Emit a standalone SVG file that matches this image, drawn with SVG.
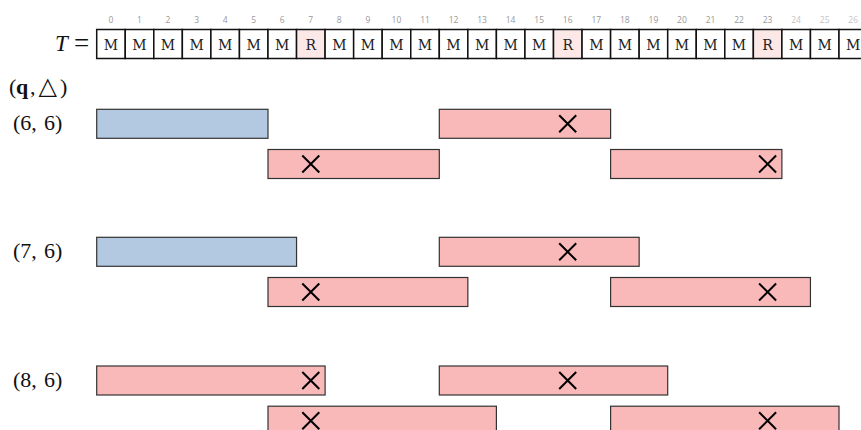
<svg xmlns="http://www.w3.org/2000/svg" width="861" height="430" viewBox="0 0 861 430">
<style>
.idx{font-family:"Open Sans","Liberation Sans",sans-serif;font-size:8.5px;fill:#999;text-anchor:middle}
.idx2{fill:#c4c4c4}
.cell{fill:#fff;stroke:#111;stroke-width:1.5}
.cellr{fill:#fde8e8;stroke:#111;stroke-width:1.5}
.ct{font-family:"DejaVu Serif","Liberation Serif",serif;font-size:14px;fill:#222;text-anchor:middle}
.lbl{font-family:"Liberation Serif","Times New Roman",serif;font-size:22px;fill:#111}
.blue{fill:#b3c8e1;stroke:#333;stroke-width:1.2}
.pink{fill:#f9b9b9;stroke:#333;stroke-width:1.2}
.x{stroke:#000;stroke-width:2;fill:none}
</style>
<defs>
<g id="xm"><path class="x" d="M-8.5,-8.5L8.5,8.5M-8.5,8.5L8.5,-8.5"/></g>
</defs>
<rect width="861" height="430" fill="#fff"/>
<g id="tlabel">
<text class="lbl" x="55" y="51" style="font-style:italic;font-size:23px">T</text>
<text class="lbl" x="74" y="52" style="font-size:27px">=</text>
</g>
<g id="tape">
<g id="indices">
<text class="idx" x="111" y="23">0</text><text class="idx" x="139.5" y="23">1</text><text class="idx" x="168" y="23">2</text><text class="idx" x="196.6" y="23">3</text><text class="idx" x="225.1" y="23">4</text><text class="idx" x="253.7" y="23">5</text><text class="idx" x="282.2" y="23">6</text><text class="idx" x="310.8" y="23">7</text><text class="idx" x="339.3" y="23">8</text><text class="idx" x="367.9" y="23">9</text><text class="idx" x="396.4" y="23">10</text><text class="idx" x="425" y="23">11</text><text class="idx" x="453.5" y="23">12</text><text class="idx" x="482.1" y="23">13</text><text class="idx" x="510.6" y="23">14</text><text class="idx" x="539.2" y="23">15</text><text class="idx" x="567.7" y="23">16</text><text class="idx" x="596.3" y="23">17</text><text class="idx" x="624.8" y="23">18</text><text class="idx" x="653.4" y="23">19</text><text class="idx" x="681.9" y="23">20</text><text class="idx" x="710.5" y="23">21</text><text class="idx" x="739" y="23">22</text><text class="idx" x="767.6" y="23">23</text><text class="idx idx2" x="796.1" y="23">24</text><text class="idx idx2" x="824.7" y="23">25</text><text class="idx idx2" x="853.2" y="23">26</text>
</g>
<g id="cells">
<rect class="cell" x="96.7" y="29.5" width="28.55" height="29"/>
<rect class="cell" x="125.25" y="29.5" width="28.55" height="29"/>
<rect class="cell" x="153.8" y="29.5" width="28.55" height="29"/>
<rect class="cell" x="182.35" y="29.5" width="28.55" height="29"/>
<rect class="cell" x="210.9" y="29.5" width="28.55" height="29"/>
<rect class="cell" x="239.45" y="29.5" width="28.55" height="29"/>
<rect class="cell" x="268" y="29.5" width="28.55" height="29"/>
<rect class="cellr" x="296.55" y="29.5" width="28.55" height="29"/>
<rect class="cell" x="325.1" y="29.5" width="28.55" height="29"/>
<rect class="cell" x="353.65" y="29.5" width="28.55" height="29"/>
<rect class="cell" x="382.2" y="29.5" width="28.55" height="29"/>
<rect class="cell" x="410.75" y="29.5" width="28.55" height="29"/>
<rect class="cell" x="439.3" y="29.5" width="28.55" height="29"/>
<rect class="cell" x="467.85" y="29.5" width="28.55" height="29"/>
<rect class="cell" x="496.4" y="29.5" width="28.55" height="29"/>
<rect class="cell" x="524.95" y="29.5" width="28.55" height="29"/>
<rect class="cellr" x="553.5" y="29.5" width="28.55" height="29"/>
<rect class="cell" x="582.05" y="29.5" width="28.55" height="29"/>
<rect class="cell" x="610.6" y="29.5" width="28.55" height="29"/>
<rect class="cell" x="639.15" y="29.5" width="28.55" height="29"/>
<rect class="cell" x="667.7" y="29.5" width="28.55" height="29"/>
<rect class="cell" x="696.25" y="29.5" width="28.55" height="29"/>
<rect class="cell" x="724.8" y="29.5" width="28.55" height="29"/>
<rect class="cellr" x="753.35" y="29.5" width="28.55" height="29"/>
<rect class="cell" x="781.9" y="29.5" width="28.55" height="29"/>
<rect class="cell" x="810.45" y="29.5" width="28.55" height="29"/>
<rect class="cell" x="839" y="29.5" width="28.55" height="29"/>
</g>
<g id="celltext">
<text class="ct" x="111" y="50">M</text><text class="ct" x="139.5" y="50">M</text><text class="ct" x="168" y="50">M</text><text class="ct" x="196.6" y="50">M</text><text class="ct" x="225.1" y="50">M</text><text class="ct" x="253.7" y="50">M</text><text class="ct" x="282.2" y="50">M</text><text class="ct" x="310.8" y="50">R</text><text class="ct" x="339.3" y="50">M</text><text class="ct" x="367.9" y="50">M</text><text class="ct" x="396.4" y="50">M</text><text class="ct" x="425" y="50">M</text><text class="ct" x="453.5" y="50">M</text><text class="ct" x="482.1" y="50">M</text><text class="ct" x="510.6" y="50">M</text><text class="ct" x="539.2" y="50">M</text><text class="ct" x="567.7" y="50">R</text><text class="ct" x="596.3" y="50">M</text><text class="ct" x="624.8" y="50">M</text><text class="ct" x="653.4" y="50">M</text><text class="ct" x="681.9" y="50">M</text><text class="ct" x="710.5" y="50">M</text><text class="ct" x="739" y="50">M</text><text class="ct" x="767.6" y="50">R</text><text class="ct" x="796.1" y="50">M</text><text class="ct" x="824.7" y="50">M</text><text class="ct" x="853.2" y="50">M</text>
</g>
</g>
<g id="header"><text class="lbl" y="94"><tspan x="9">(</tspan><tspan x="16" font-weight="bold">q</tspan><tspan x="30">,</tspan><tspan x="38.5" style="font-family:'DejaVu Sans',sans-serif;font-size:24px">△</tspan><tspan x="60">)</tspan></text></g>
<g id="row-6-6">
<text class="lbl" y="130"><tspan x="13">(6,</tspan><tspan x="44">6)</tspan></text>
<rect class="blue" x="96.7" y="109.3" width="171.3" height="29"/>
<rect class="pink" x="439.3" y="109.3" width="171.3" height="29"/>
<use href="#xm" x="567.7" y="123.8"/>
<rect class="pink" x="268" y="149.5" width="171.3" height="29"/>
<use href="#xm" x="310.8" y="164"/>
<rect class="pink" x="610.6" y="149.5" width="171.3" height="29"/>
<use href="#xm" x="767.6" y="164"/>
</g>
<g id="row-7-6">
<text class="lbl" y="258"><tspan x="13">(7,</tspan><tspan x="44">6)</tspan></text>
<rect class="blue" x="96.7" y="237.3" width="199.85" height="29"/>
<rect class="pink" x="439.3" y="237.3" width="199.85" height="29"/>
<use href="#xm" x="567.7" y="251.8"/>
<rect class="pink" x="268" y="277.5" width="199.85" height="29"/>
<use href="#xm" x="310.8" y="292"/>
<rect class="pink" x="610.6" y="277.5" width="199.85" height="29"/>
<use href="#xm" x="767.6" y="292"/>
</g>
<g id="row-8-6">
<text class="lbl" y="387"><tspan x="13">(8,</tspan><tspan x="44">6)</tspan></text>
<rect class="pink" x="96.7" y="366" width="228.4" height="29"/>
<use href="#xm" x="310.8" y="380.5"/>
<rect class="pink" x="439.3" y="366" width="228.4" height="29"/>
<use href="#xm" x="567.7" y="380.5"/>
<rect class="pink" x="268" y="406.2" width="228.4" height="29"/>
<use href="#xm" x="310.8" y="420.7"/>
<rect class="pink" x="610.6" y="406.2" width="228.4" height="29"/>
<use href="#xm" x="767.6" y="420.7"/>
</g>
<g id="connectors"/>
</svg>
